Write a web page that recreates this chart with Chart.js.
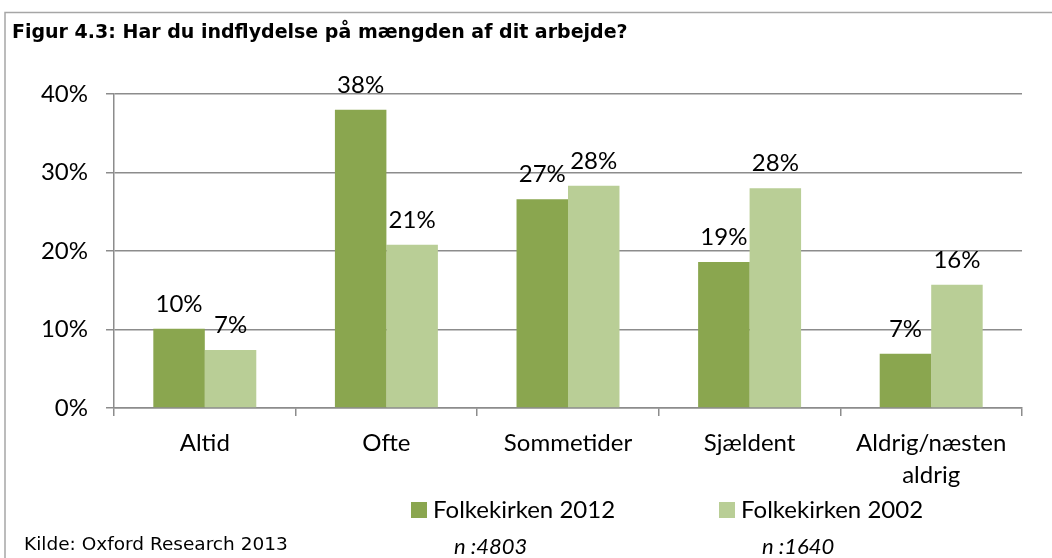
<!DOCTYPE html>
<html>
<head>
<meta charset="utf-8">
<script src="https://cdn.jsdelivr.net/npm/chart.js@4.4.1/dist/chart.umd.min.js"></script>
<style>
  html, body { margin: 0; padding: 0; background: #fff; }
  #wrap { width: 1052px; height: 558px; }
</style>
</head>
<body>
<div id="wrap"><canvas id="chart" width="1052" height="558"></canvas></div>
<script>
// chart data
const titleText = 'Figur 4.3: Har du indflydelse på mængden af dit arbejde?';
const categories = ['Altid', 'Ofte', 'Sommetider', 'Sjældent', ['Aldrig/næsten', 'aldrig']];
const seriesNames = ['Folkekirken 2012', 'Folkekirken 2002'];
const values2012 = [10.1, 38.0, 26.6, 18.6, 6.9];
const values2002 = [7.4, 20.8, 28.3, 28.0, 15.7];
const sampleSizes = ['n :4803', 'n :1640'];
const yTicks = [0, 10, 20, 30, 40];
const sourceText = 'Kilde: Oxford Research 2013';

const colors = ['#8aa64f', '#b9ce96'];
const gridColor = '#8c8c8c';
const labelFont = 'Lato';
const labelSize = 24;

// frame, title, value labels, legend and footer
const decorations = {
  id: 'decorations',
  afterDraw(chart) {
    const ctx = chart.ctx;
    ctx.save();

    ctx.strokeStyle = '#a6a6a6';
    ctx.lineWidth = 1.5;
    ctx.beginPath();
    ctx.moveTo(5, 600);
    ctx.lineTo(5, 12.5);
    ctx.lineTo(1100, 12.5);
    ctx.stroke();

    ctx.fillStyle = '#000';
    ctx.textBaseline = 'middle';
    ctx.textAlign = 'left';
    ctx.font = 'bold 19px "DejaVu Sans", sans-serif';
    ctx.fillText(titleText, 12, 33);

    // value labels above bars
    ctx.font = labelSize + 'px ' + labelFont;
    ctx.textAlign = 'center';
    ctx.textBaseline = 'alphabetic';
    chart.data.datasets.forEach((ds, i) => {
      chart.getDatasetMeta(i).data.forEach((bar, j) => {
        ctx.fillText(Math.round(ds.data[j]) + '%', bar.x, bar.y - 17);
      });
    });

    // legend
    const legendX = [411, 719];
    ctx.textAlign = 'left';
    ctx.textBaseline = 'middle';
    chart.data.datasets.forEach((ds, i) => {
      ctx.fillStyle = ds.backgroundColor;
      ctx.fillRect(legendX[i], 502, 16, 16);
      ctx.fillStyle = '#000';
      ctx.font = labelSize + 'px ' + labelFont;
      ctx.fillText(ds.label, legendX[i] + 22, 510);
      ctx.font = 'italic 22px ' + labelFont;
      ctx.fillText(sampleSizes[i], legendX[i] + 43, 547);
    });

    ctx.font = '18.5px "DejaVu Sans", sans-serif';
    ctx.fillText(sourceText, 24, 545);
    ctx.restore();
  }
};

new Chart(document.getElementById('chart'), {
  type: 'bar',
  data: {
    labels: categories,
    datasets: [
      { label: seriesNames[0], data: values2012, backgroundColor: colors[0] },
      { label: seriesNames[1], data: values2002, backgroundColor: colors[1] }
    ]
  },
  options: {
    responsive: false,
    animation: false,
    layout: { padding: { top: 94, right: 30, bottom: 0, left: 0 } },
    datasets: { bar: { barPercentage: 1, categoryPercentage: 0.567 } },
    plugins: {
      legend: { display: false },
      title: { display: false },
      tooltip: { enabled: false }
    },
    scales: {
      x: {
        offset: true,
        grid: { offset: true, drawOnChartArea: false, tickLength: 8, color: gridColor, lineWidth: 1.5 },
        border: { color: gridColor, width: 1.5 },
        ticks: {
          color: '#000', padding: 11, maxRotation: 0, autoSkip: false,
          font: { family: labelFont, size: labelSize, lineHeight: 1.33 }
        },
        afterFit: s => { s.height = 150; }
      },
      y: {
        min: 0, max: 40,
        afterBuildTicks: s => { s.ticks = yTicks.map(v => ({ value: v })); },
        grid: { tickLength: 8, color: gridColor, lineWidth: 1.5 },
        border: { color: gridColor, width: 1.5 },
        ticks: {
          color: '#000', padding: 18,
          font: { family: labelFont, size: labelSize },
          callback: v => v + '%'
        },
        afterFit: s => { s.width = 114; }
      }
    }
  },
  plugins: [decorations]
});
</script>
</body>
</html>
